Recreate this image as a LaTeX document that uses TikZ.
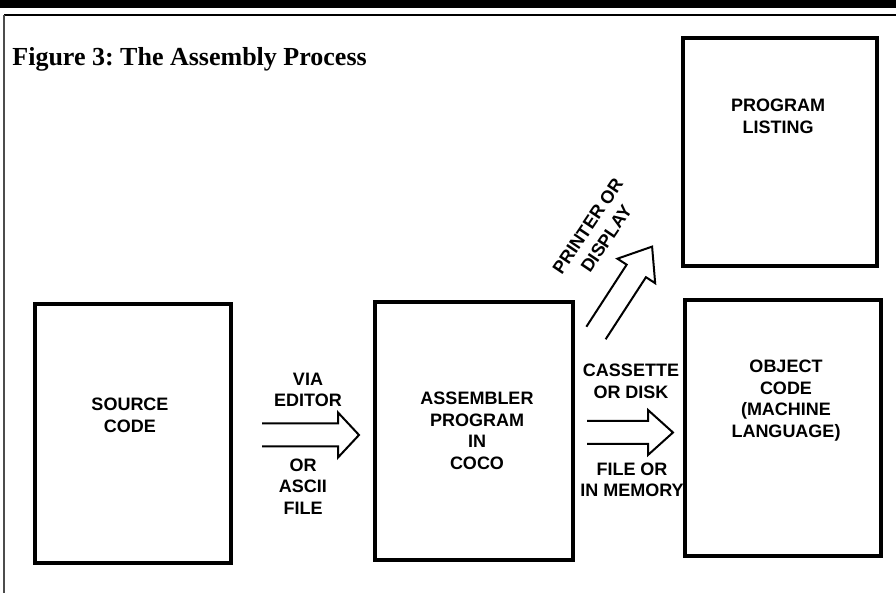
\documentclass[tikz,border=0pt]{standalone}
\usepackage{fontspec}
\setmainfont{Liberation Serif}
\setsansfont{Liberation Sans}
\usetikzlibrary{fit}
\frenchspacing

\tikzset{
  box/.style={draw,line width=2pt,inner sep=0pt},
  lbl/.style={font=\sffamily\bfseries\fontsize{9}{10.8}\selectfont,align=center,inner sep=0pt},
  arrowline/.style={line width=1pt,line join=miter},
  pics/hollowarrow/.style 2 args={code={
    \draw[arrowline] (0,11.5) -- (#1,11.5) -- (#1,22.5) -- ({#1+#2},0)
      -- (#1,-22.5) -- (#1,-11.5) -- (0,-11.5);
  }}
}

\begin{document}
\begin{tikzpicture}[x=0.5pt,y=-0.5pt]
  \useasboundingbox (0,0) rectangle (896,593);
  % frame
  \fill (0,0) rectangle (896,8);
  \draw[line width=1pt] (4,15) -- (896,15);
  \draw[line width=0.8pt,black!70] (4,15) -- (4,593);
  \node[anchor=base west,inner sep=0pt,font=\bfseries\fontsize{13}{15}\selectfont]
    (title) at (12,66) {Figure 3: The Assembly Process};

  % boxes
  \node[box,fit={(35,304) (231,563)}] (src) {};
  \node[box,fit={(375,302) (573,560)}] (asm) {};
  \node[box,fit={(685,300) (881,556)}] (obj) {};
  \node[box,fit={(683,38) (877,266)}] (lst) {};

  \node[lbl] (srctxt) at (130,415.5) {SOURCE\\CODE};
  \node[lbl] (asmtxt) at (477,431) {ASSEMBLER\\PROGRAM\\IN\\COCO};
  \node[lbl] (objtxt) at (786,400.5) {OBJECT\\CODE\\(MACHINE\\LANGUAGE)};
  \node[lbl] (lsttxt) at (778,116.5) {PROGRAM\\LISTING};

  % arrows
  \coordinate (a1) at (262,435);
  \coordinate (a2) at (587,432.5);
  \coordinate (a3) at (596,333);
  \pic at (a1) {hollowarrow={76}{21}};
  \pic at (a2) {hollowarrow={61}{25}};
  \pic[rotate=57] at (a3) {hollowarrow={74}{29}};

  \node[lbl] (via) at (308,390) {VIA\\EDITOR};
  \node[lbl] (ascii) at (303,486.5) {OR\\ASCII\\FILE};
  \node[lbl] (cas) at (631,381.5) {CASSETTE\\OR DISK};
  \node[lbl] (mem) at (632,480) {FILE OR\\IN MEMORY};
  \node[lbl,rotate=56,font=\sffamily\bfseries\fontsize{9}{11.2}\selectfont]
    (prn) at (597,232.5) {PRINTER OR\\DISPLAY};
\end{tikzpicture}
\end{document}
